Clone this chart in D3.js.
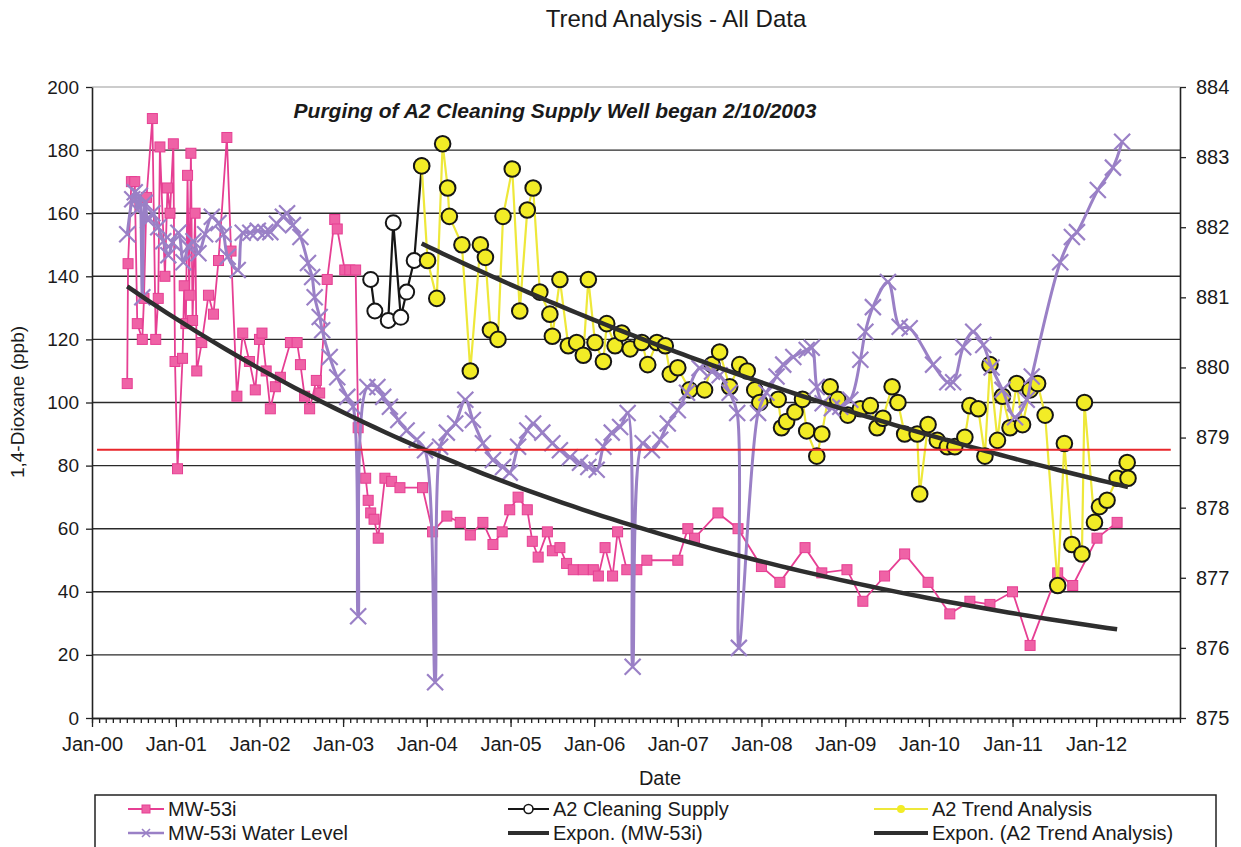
<!DOCTYPE html>
<html>
<head>
<meta charset="utf-8">
<script src="https://cdn.jsdelivr.net/npm/d3@7"></script>
<style>
  body { margin: 0; background: #fff; }
  text { font-family: "Liberation Sans", Arial, sans-serif; fill: #1a1a1a; }
</style>
</head>
<body>
<svg id="chart" width="1241" height="847"></svg>
<script>
// ---- data (dates as decimal years) ----
const mwDates = [2000.42, 2000.43, 2000.47, 2000.51, 2000.54, 2000.60, 2000.62, 2000.65, 2000.72, 2000.76,
  2000.79, 2000.81, 2000.87, 2000.90, 2000.93, 2000.97, 2000.99, 2001.02, 2001.08, 2001.10,
  2001.12, 2001.14, 2001.16, 2001.18, 2001.20, 2001.23, 2001.25, 2001.31,
  2001.39, 2001.45, 2001.51, 2001.61, 2001.66, 2001.73, 2001.80, 2001.88, 2001.95, 2002.00,
  2002.03, 2002.08, 2002.13, 2002.19, 2002.25, 2002.37, 2002.45, 2002.49, 2002.54, 2002.60,
  2002.68, 2002.72, 2002.81, 2002.90, 2002.93, 2003.02, 2003.08, 2003.15, 2003.18, 2003.27,
  2003.30, 2003.33, 2003.37, 2003.42, 2003.50, 2003.58, 2003.68, 2003.95, 2004.07, 2004.24,
  2004.40, 2004.52, 2004.67, 2004.79, 2004.90, 2004.99, 2005.09, 2005.20, 2005.26, 2005.33,
  2005.44, 2005.50, 2005.59, 2005.67, 2005.75, 2005.87, 2005.99, 2006.05, 2006.13, 2006.22,
  2006.28, 2006.39, 2006.51, 2006.63, 2007.00, 2007.12, 2007.20, 2007.48, 2007.72, 2008.00,
  2008.22, 2008.52, 2008.72, 2009.02, 2009.21, 2009.47, 2009.71, 2009.99, 2010.25, 2010.49,
  2010.73, 2011.00, 2011.21, 2011.54, 2011.72, 2012.01, 2012.25];
const mwValues = [106, 144, 170, 170, 125, 120, 133, 165, 190, 120,
  133, 181, 140, 168, 160, 182, 113, 79, 114, 137,
  125, 172, 134, 179, 126, 160, 110, 119,
  134, 128, 145, 184, 148, 102, 122, 113, 104, 120,
  122, 110, 98, 105, 108, 119, 119, 112, 102, 98,
  107, 103, 139, 158, 155, 142, 142, 142, 92, 76,
  69, 65, 63, 57, 76, 75, 73, 73, 59, 64,
  62, 58, 62, 55, 59, 66, 70, 66, 56, 51,
  59, 53, 54, 49, 47, 47, 47, 45, 54, 45,
  59, 47, 47, 50, 50, 60, 57, 65, 60, 48,
  43, 54, 46, 47, 37, 45, 52, 43, 33, 37,
  36, 40, 23, 46, 42, 57, 62];

const cleanDates = [2003.33, 2003.38, 2003.54, 2003.60, 2003.69, 2003.76, 2003.85, 2003.94];
const cleanValues = [139, 129, 126, 157, 127, 135, 145, 175];

const trendDates = [2003.94, 2004.01, 2004.12, 2004.19, 2004.25, 2004.27, 2004.42, 2004.52, 2004.64, 2004.70,
  2004.76, 2004.85, 2004.91, 2005.02, 2005.11, 2005.20, 2005.27, 2005.35, 2005.47, 2005.50,
  2005.59, 2005.69, 2005.79, 2005.87, 2005.93, 2006.01, 2006.11, 2006.15, 2006.25, 2006.33,
  2006.43, 2006.57, 2006.64, 2006.75, 2006.85, 2006.91, 2007.00, 2007.14, 2007.32, 2007.41,
  2007.50, 2007.62, 2007.74, 2007.83, 2007.92, 2007.98, 2008.20, 2008.24, 2008.30, 2008.40,
  2008.49, 2008.54, 2008.66, 2008.72, 2008.82, 2008.91, 2009.03, 2009.18, 2009.30, 2009.38,
  2009.45, 2009.56, 2009.63, 2009.71, 2009.86, 2009.89, 2009.99, 2010.10, 2010.22, 2010.31,
  2010.43, 2010.49, 2010.59, 2010.67, 2010.73, 2010.82, 2010.88, 2010.97, 2011.05, 2011.12,
  2011.21, 2011.30, 2011.39, 2011.54, 2011.62, 2011.71, 2011.83, 2011.86, 2011.98, 2012.04,
  2012.13, 2012.25, 2012.37, 2012.38];
const trendValues = [175, 145, 133, 182, 168, 159, 150, 110, 150, 146,
  123, 120, 159, 174, 129, 161, 168, 135, 128, 121,
  139, 118, 119, 115, 139, 119, 113, 125, 118, 122,
  117, 119, 112, 119, 118, 109, 111, 104, 104, 112,
  116, 105, 112, 110, 104, 100, 101, 92, 94, 97,
  101, 91, 83, 90, 105, 101, 96, 98, 99, 92,
  95, 105, 100, 90, 90, 71, 93, 88, 86, 86,
  89, 99, 98, 83, 112, 88, 102, 92, 106, 93,
  104, 106, 96, 42, 87, 55, 52, 100, 62, 67,
  69, 76, 81, 76];

const levelDates = [2000.42, 2000.48, 2000.51, 2000.54, 2000.57, 2000.60, 2000.63, 2000.67, 2000.72, 2000.79,
  2000.85, 2000.91, 2000.96, 2001.03, 2001.09, 2001.15, 2001.21, 2001.27, 2001.35, 2001.43,
  2001.51, 2001.57, 2001.62, 2001.74, 2001.80, 2001.89, 2001.98, 2002.07, 2002.13, 2002.21,
  2002.28, 2002.33, 2002.40, 2002.49, 2002.58, 2002.63, 2002.66, 2002.72, 2002.75, 2002.84,
  2002.93, 2003.05, 2003.12, 2003.18, 2003.29, 2003.41, 2003.48, 2003.56, 2003.66, 2003.76,
  2003.88, 2003.98, 2004.10, 2004.16, 2004.24, 2004.34, 2004.46, 2004.55, 2004.67, 2004.79,
  2004.91, 2004.99, 2005.09, 2005.20, 2005.27, 2005.38, 2005.50, 2005.59, 2005.71, 2005.83,
  2005.93, 2006.03, 2006.11, 2006.21, 2006.31, 2006.40, 2006.46, 2006.58, 2006.69, 2006.79,
  2006.88, 2007.00, 2007.11, 2007.26, 2007.41, 2007.50, 2007.62, 2007.71, 2007.73, 2007.96,
  2008.06, 2008.18, 2008.26, 2008.38, 2008.54, 2008.60, 2008.66, 2008.73, 2008.84, 2008.94,
  2009.06, 2009.18, 2009.24, 2009.33, 2009.51, 2009.65, 2009.77, 2010.05, 2010.22, 2010.29,
  2010.41, 2010.53, 2010.65, 2010.75, 2010.88, 2011.03, 2011.17, 2011.23, 2011.57, 2011.71,
  2011.77, 2012.02, 2012.20, 2012.31];
const levelValues = [881.9, 882.4, 882.5, 882.25, 882.45, 881.0, 882.35, 882.1, 882.2, 882.0,
  881.8, 881.6, 881.78, 881.92, 881.5, 881.72, 881.8, 881.63, 881.9, 882.15,
  882.06, 881.9, 881.58, 881.39, 881.92, 881.92, 881.95, 881.93, 881.93, 882.05,
  882.15, 882.2, 882.03, 881.86, 881.49, 881.29, 881.0, 880.72, 880.53, 880.15,
  879.86, 879.58, 879.44, 876.45, 879.72, 879.72, 879.58, 879.44, 879.25, 879.1,
  878.97, 878.82, 875.51, 878.87, 879.07, 879.2, 879.54, 879.25, 878.92, 878.68,
  878.58, 878.5, 878.87, 879.1, 879.2, 879.07, 878.92, 878.82, 878.72, 878.64,
  878.58, 878.54, 878.87, 879.07, 879.15, 879.35, 875.73, 878.92, 878.82, 878.97,
  879.2, 879.39, 879.64, 879.99, 879.94, 879.89, 879.64, 879.35, 876.0, 879.35,
  879.64, 879.87, 880.04, 880.15, 880.25, 880.28, 879.72, 879.49, 879.42, 879.44,
  879.54, 880.11, 880.51, 880.86, 881.22, 880.58, 880.56, 880.04, 879.79, 879.79,
  880.29, 880.51, 880.32, 880.0, 879.68, 879.29, 879.54, 879.87, 881.5, 881.86,
  881.93, 882.53, 882.85, 883.22];

// 85 ppb reference line
const limitDates = [2000.06, 2012.89];
const limitValues = [85, 85];

const yTicks = [0, 20, 40, 60, 80, 100, 120, 140, 160, 180, 200];
const y2Ticks = [875, 876, 877, 878, 879, 880, 881, 882, 883, 884];
const yearTicks = [2000, 2001, 2002, 2003, 2004, 2005, 2006, 2007, 2008, 2009, 2010, 2011, 2012];

const legendItems = [
  {name: "MW-53i", key: "mw"},
  {name: "A2 Cleaning Supply", key: "clean"},
  {name: "A2 Trend Analysis", key: "trend"},
  {name: "MW-53i Water Level", key: "level"},
  {name: "Expon. (MW-53i)", key: "expMw"},
  {name: "Expon. (A2 Trend Analysis)", key: "expTrend"}
];

// ---- helpers ----
function toDate(dy) {
  const yr = Math.floor(dy);
  const a = new Date(yr, 0, 1), b = new Date(yr + 1, 0, 1);
  return new Date(+a + (dy - yr) * (b - a));
}
function zip(ds, vs) { return ds.map((d, i) => ({date: toDate(d), value: vs[i]})); }

// Excel-style exponential trendline: least squares on ln(y)
function expFit(pts) {
  const xs = pts.map(p => +p.date / 864e5), ys = pts.map(p => Math.log(p.value));
  const mx = d3.mean(xs), my = d3.mean(ys);
  const b = d3.sum(xs, (v, i) => (v - mx) * (ys[i] - my)) / d3.sum(xs, v => (v - mx) ** 2);
  const a = my - b * mx;
  const d0 = pts[0].date, d1 = pts[pts.length - 1].date;
  return d3.range(0, 101).map(i => {
    const d = new Date(+d0 + (d1 - d0) * i / 100);
    return {date: d, value: Math.exp(a + b * (+d / 864e5))};
  });
}

const mw = zip(mwDates, mwValues);
const clean = zip(cleanDates, cleanValues);
const trend = zip(trendDates, trendValues);
const level = zip(levelDates, levelValues);
const limit = zip(limitDates, limitValues);

// ---- layout ----
const plotL = 92, plotR = 1180, plotT = 87, plotB = 718;
const svg = d3.select("#chart");

const x = d3.scaleTime().domain([new Date(2000, 0, 1), new Date(2013, 0, 1)]).range([plotL, plotR]);
const y = d3.scaleLinear().domain([0, 200]).range([plotB, plotT]);
const y2 = d3.scaleLinear().domain([875, 884]).range([plotB, plotT]);

const colors = {
  mw: "#e63f93", mwFill: "#ef62a6",
  level: "#9a80c6",
  trend: "#eee83a", trendFill: "#f2ec26",
  ink: "#161616", expo: "#2e2e2e", limit: "#e8262b"
};

// plot border top
svg.append("line").attr("x1", plotL).attr("x2", plotR).attr("y1", plotT).attr("y2", plotT)
  .attr("stroke", "#9a9a9a").attr("stroke-width", 1.2);

// gridlines
svg.append("g").selectAll("line").data(yTicks.filter(v => v > 0 && v < 200)).join("line")
  .attr("x1", plotL).attr("x2", plotR)
  .attr("y1", d => y(d)).attr("y2", d => y(d))
  .attr("stroke", "#2a2a2a").attr("stroke-width", 1.4);

// axes
const axisStyle = g => {
  g.selectAll("path").attr("stroke", "#222").attr("stroke-width", 1.6);
  g.selectAll("line").attr("stroke", "#222").attr("stroke-width", 1.3);
  g.selectAll("text").attr("fill", "#1a1a1a").style("font-family", "Liberation Sans, Arial, sans-serif");
};

svg.append("g").attr("transform", `translate(${plotL},0)`)
  .call(d3.axisLeft(y).tickValues(yTicks).tickSize(6).tickPadding(7).tickSizeOuter(0))
  .call(axisStyle)
  .call(g => g.selectAll("text").style("font-size", "19px"));

svg.append("g").attr("transform", `translate(${plotR},0)`)
  .call(d3.axisRight(y2).tickValues(y2Ticks).tickSize(6).tickPadding(10).tickSizeOuter(0))
  .call(axisStyle)
  .call(g => g.selectAll("text").style("font-size", "20px"));

// minor month ticks
svg.append("g").attr("transform", `translate(0,${plotB})`)
  .call(d3.axisBottom(x).tickValues(d3.timeMonth.range(new Date(2000, 0, 1), new Date(2013, 0, 2)))
    .tickSize(5).tickFormat("").tickSizeOuter(0))
  .call(axisStyle);

svg.append("g").attr("transform", `translate(0,${plotB})`)
  .call(d3.axisBottom(x).tickValues(yearTicks.map(v => new Date(v, 0, 1)))
    .tickSize(9).tickPadding(10).tickFormat(d3.timeFormat("Jan-%y")).tickSizeOuter(0))
  .call(axisStyle)
  .call(g => g.selectAll("text").style("font-size", "20px"));

// ---- series ----
const lineOf = (yy, curve) => d3.line().x(d => x(d.date)).y(d => yy(d.value)).curve(curve || d3.curveLinear);

// MW-53i
svg.append("path").datum(mw).attr("d", lineOf(y))
  .attr("fill", "none").attr("stroke", colors.mw).attr("stroke-width", 1.8);
svg.append("g").selectAll("rect").data(mw).join("rect")
  .attr("x", d => x(d.date) - 5).attr("y", d => y(d.value) - 5)
  .attr("width", 10).attr("height", 10)
  .attr("fill", colors.mwFill).attr("stroke", colors.mw).attr("stroke-width", 1);

// A2 Cleaning Supply
svg.append("path").datum(clean).attr("d", lineOf(y))
  .attr("fill", "none").attr("stroke", colors.ink).attr("stroke-width", 2.2);
svg.append("g").selectAll("circle").data(clean).join("circle")
  .attr("cx", d => x(d.date)).attr("cy", d => y(d.value)).attr("r", 7.5)
  .attr("fill", "#fff").attr("stroke", colors.ink).attr("stroke-width", 2);

// A2 Trend Analysis
svg.append("path").datum(trend).attr("d", lineOf(y))
  .attr("fill", "none").attr("stroke", colors.trend).attr("stroke-width", 2.2);
svg.append("g").selectAll("circle").data(trend).join("circle")
  .attr("cx", d => x(d.date)).attr("cy", d => y(d.value)).attr("r", 7.8)
  .attr("fill", colors.trendFill).attr("stroke", colors.ink).attr("stroke-width", 2);

// Water level (secondary axis, smoothed)
svg.append("path").datum(level).attr("d", lineOf(y2, d3.curveCatmullRom))
  .attr("fill", "none").attr("stroke", colors.level).attr("stroke-width", 3);
const xs = 8;
svg.append("g").selectAll("path").data(level).join("path")
  .attr("d", d => {
    const cx = x(d.date), cy = y2(d.value);
    return `M${cx - xs},${cy - xs}L${cx + xs},${cy + xs}M${cx - xs},${cy + xs}L${cx + xs},${cy - xs}`;
  })
  .attr("stroke", colors.level).attr("stroke-width", 2.2).attr("fill", "none");

// exponential trendlines
svg.append("path").datum(expFit(mw)).attr("d", lineOf(y))
  .attr("fill", "none").attr("stroke", colors.expo).attr("stroke-width", 4.5);
svg.append("path").datum(expFit(trend)).attr("d", lineOf(y))
  .attr("fill", "none").attr("stroke", colors.expo).attr("stroke-width", 4.5);

// 85 ppb line
svg.append("path").datum(limit).attr("d", lineOf(y))
  .attr("fill", "none").attr("stroke", colors.limit).attr("stroke-width", 2);

// ---- text ----
svg.append("text").attr("x", 676).attr("y", 27).attr("text-anchor", "middle")
  .style("font-size", "24px").text("Trend Analysis - All Data");

svg.append("text").attr("x", 555).attr("y", 118).attr("text-anchor", "middle")
  .style("font-size", "21px").style("font-weight", "bold").style("font-style", "italic")
  .text("Purging of A2 Cleaning Supply Well began 2/10/2003");

svg.append("text").attr("transform", "translate(24,402) rotate(-90)").attr("text-anchor", "middle")
  .style("font-size", "19px").text("1,4-Dioxane (ppb)");

svg.append("text").attr("x", 660).attr("y", 785).attr("text-anchor", "middle")
  .style("font-size", "20px").text("Date");

// ---- legend ----
const legend = svg.append("g");
legend.append("rect").attr("x", 95).attr("y", 795).attr("width", 1121).attr("height", 70)
  .attr("fill", "#fff").attr("stroke", "#222").attr("stroke-width", 1.5);

const colX = [128, 508, 874];
const colTextX = [168, 553, 932];
const rowY = [809, 833];
legendItems.forEach((item, i) => {
  const col = i % 3, lx = colX[col], ly = rowY[Math.floor(i / 3)];
  const g = legend.append("g").attr("transform", `translate(${lx},${ly})`);
  const w = colTextX[col] - lx - 4;
  if (item.key === "mw") {
    g.append("line").attr("x2", w).attr("stroke", colors.mw).attr("stroke-width", 2);
    g.append("rect").attr("x", w / 2 - 4).attr("y", -4).attr("width", 8).attr("height", 8)
      .attr("fill", colors.mwFill).attr("stroke", colors.mw);
  } else if (item.key === "clean") {
    g.append("line").attr("x2", w).attr("stroke", colors.ink).attr("stroke-width", 2);
    g.append("circle").attr("cx", w / 2).attr("r", 4.5).attr("fill", "#fff")
      .attr("stroke", colors.ink).attr("stroke-width", 1.6);
  } else if (item.key === "trend") {
    g.append("line").attr("x2", w).attr("stroke", colors.trend).attr("stroke-width", 2);
    g.append("circle").attr("cx", w / 2).attr("r", 4).attr("fill", colors.trendFill);
  } else if (item.key === "level") {
    g.append("line").attr("x2", w).attr("stroke", colors.level).attr("stroke-width", 2.5);
    g.append("path").attr("d", `M${w / 2 - 4},-4L${w / 2 + 4},4M${w / 2 - 4},4L${w / 2 + 4},-4`)
      .attr("stroke", colors.level).attr("stroke-width", 1.6);
  } else {
    g.append("line").attr("x2", w).attr("stroke", colors.expo).attr("stroke-width", 4);
  }
  g.append("text").attr("x", w + 4).attr("y", 7).style("font-size", "20px").text(item.name);
});
</script>
</body>
</html>
